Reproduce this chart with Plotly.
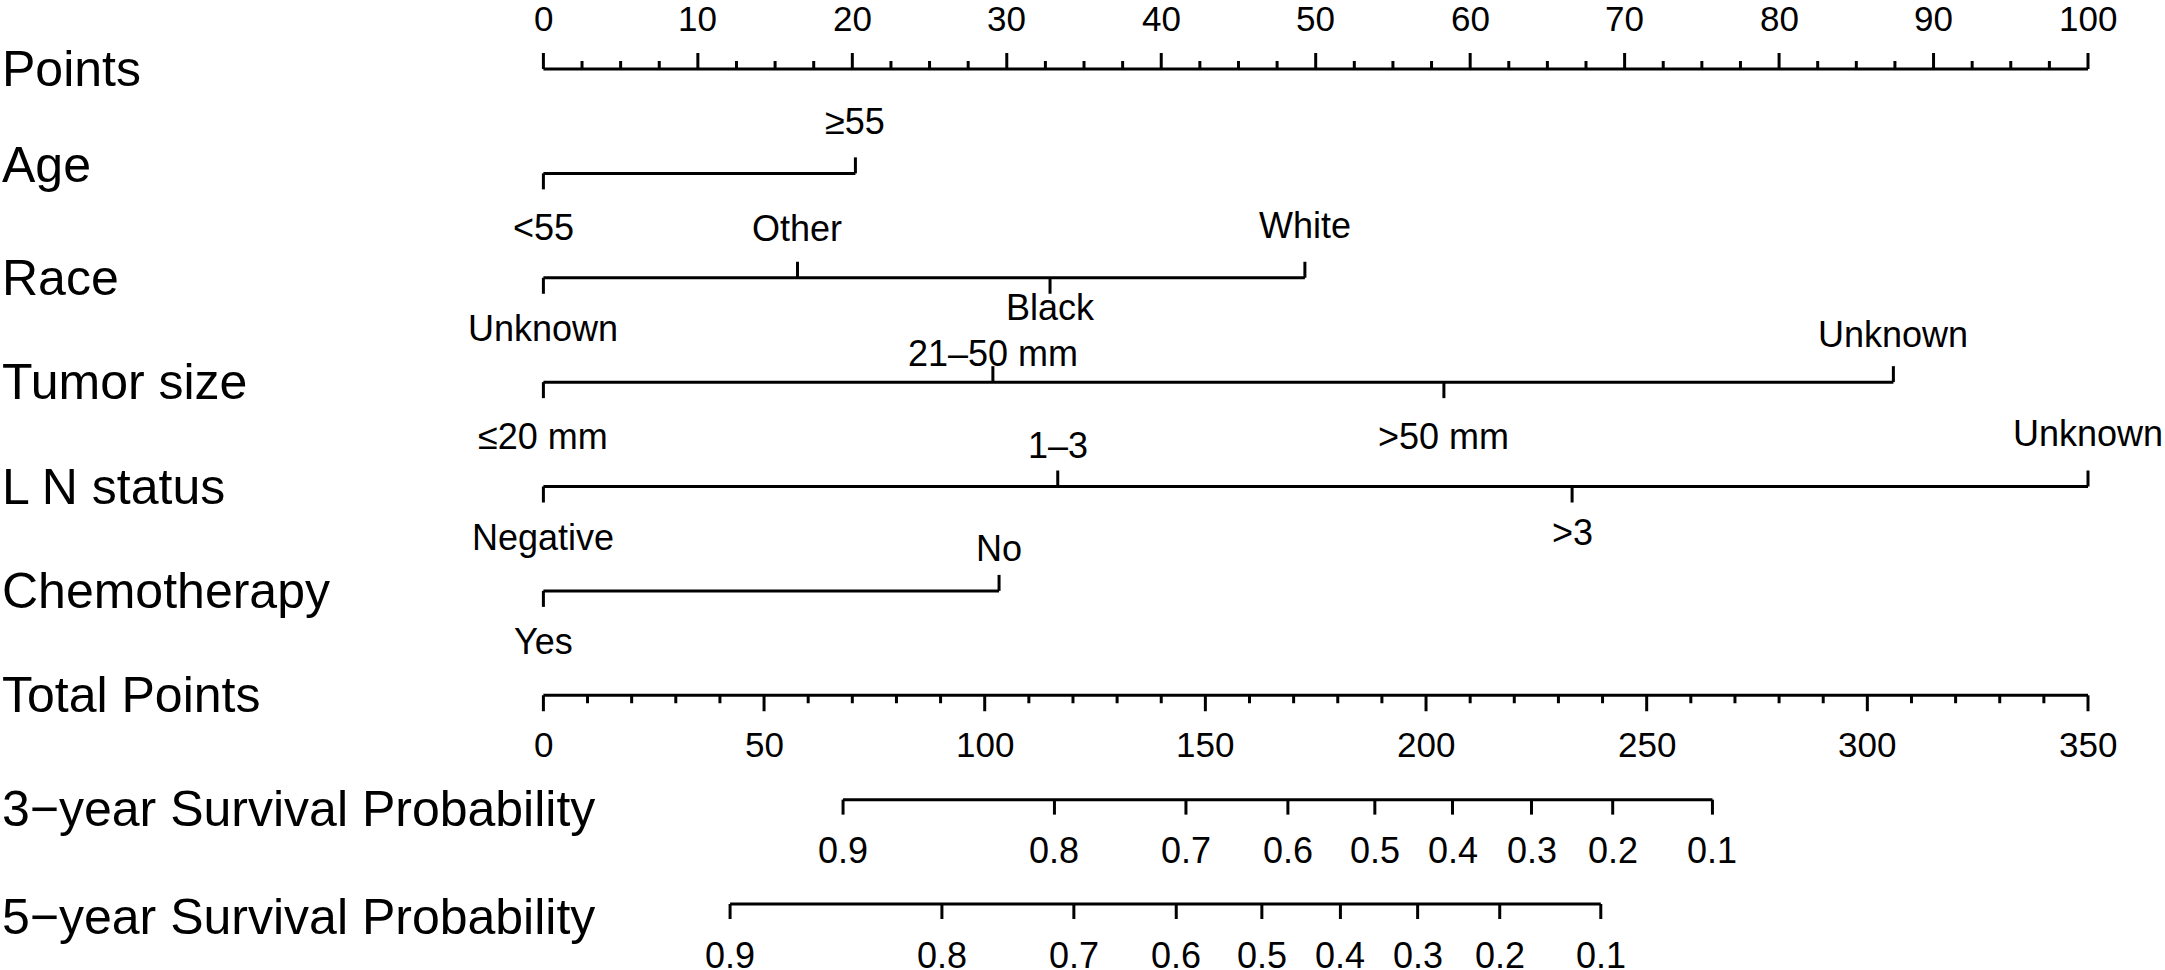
import plotly.graph_objects as go

# ---------------- data ----------------
points_ticks = [0, 10, 20, 30, 40, 50, 60, 70, 80, 90, 100]
points_minor_step = 2.5

age_levels = ["<55", "≥55"]
age_points = [0, 20.2]

race_levels = ["Unknown", "Other", "Black", "White"]
race_points = [0, 16.45, 32.8, 49.3]

tumor_levels = ["≤20 mm", "21–50 mm", ">50 mm", "Unknown"]
tumor_points = [0, 29.1, 58.3, 87.4]

ln_levels = ["Negative", "1–3", ">3", "Unknown"]
ln_points = [0, 33.3, 66.6, 100]

chemo_levels = ["Yes", "No"]
chemo_points = [0, 29.5]

total_ticks = [0, 50, 100, 150, 200, 250, 300, 350]
total_minor_step = 10
total_max = 350

surv_labels = ["0.9", "0.8", "0.7", "0.6", "0.5", "0.4", "0.3", "0.2", "0.1"]
surv3_total = [67.9, 115.8, 145.6, 168.7, 188.4, 206.0, 223.9, 242.3, 264.9]
surv5_total = [42.3, 90.3, 120.2, 143.4, 162.8, 180.6, 198.1, 216.7, 239.6]

row_names = ["Points", "Age", "Race", "Tumor size", "L N status", "Chemotherapy",
             "Total Points", "3\u2212year Survival Probability", "5\u2212year Survival Probability"]

# ---------------- styling / layout ----------------
W, H = 2165, 970
FONT = "Liberation Sans, Arial, Helvetica, sans-serif"
ROW_PX = 104.375          # pixel distance between rows
TOP_PX = 69               # pixel y of first row
X0_PX, X100_PX = 543.4, 2088.0
px_per_pt = (X100_PX - X0_PX) / 100.0
xrange = [-X0_PX / px_per_pt, (W - X0_PX) / px_per_pt]
yrange = [(H - TOP_PX) / ROW_PX, -TOP_PX / ROW_PX]
LW = 3
MAJ, MIN_, VT = 16, 8, 16   # tick lengths in px
def py(px):  # pixel length -> row units
    return px / ROW_PX

fig = go.Figure()
ann = []

def add_segments(xs, ys):
    fig.add_trace(go.Scatter(x=xs, y=ys, mode="lines",
                             line=dict(color="black", width=LW),
                             hoverinfo="skip", showlegend=False))

# Points axis (row 0), ticks up
r = 0
xs, ys = [0, 100, None], [r, r, None]
n_minor = int(round(100 / points_minor_step))
for k in range(n_minor + 1):
    v = k * points_minor_step
    L = MAJ if v in points_ticks else MIN_
    xs += [v, v, None]; ys += [r, r - py(L), None]
add_segments(xs, ys)
for v in points_ticks:
    ann.append(dict(x=v, y=r, text=str(v), yshift=51, font_size=35))

# variable rows
var_rows = [
    (1, age_levels, age_points, [-54, 52]),
    (2, race_levels, race_points, [-51, 49, -30, 52]),
    (3, tumor_levels, tumor_points, [-54, 29, -54, 48]),
    (4, ln_levels, ln_points, [-51, 41, -46, 53]),
    (5, chemo_levels, chemo_points, [-51, 42]),
]
for r, levs, pts, shifts in var_rows:
    xs, ys = [min(pts), max(pts), None], [r, r, None]
    for i, (lv, p) in enumerate(zip(levs, pts)):
        up = shifts[i] > 0
        xs += [p, p, None]; ys += [r, r - py(VT) if up else r + py(VT), None]
        ann.append(dict(x=p, y=r, text=lv, yshift=shifts[i], font_size=36))
    add_segments(xs, ys)

# Total points axis (row 6), ticks down
r = 6
scale = 100.0 / total_max
xs, ys = [0, total_max * scale, None], [r, r, None]
for k in range(int(total_max / total_minor_step) + 1):
    v = k * total_minor_step
    L = MAJ if v in total_ticks else MIN_
    xs += [v * scale, v * scale, None]; ys += [r, r + py(L), None]
add_segments(xs, ys)
for v in total_ticks:
    ann.append(dict(x=v * scale, y=r, text=str(v), yshift=-49, font_size=35))

# survival probability axes
for r, tp in [(7, surv3_total), (8, surv5_total)]:
    xs, ys = [min(tp) * scale, max(tp) * scale, None], [r, r, None]
    for lab, t in zip(surv_labels, tp):
        xs += [t * scale, t * scale, None]; ys += [r, r + py(15), None]
        ann.append(dict(x=t * scale, y=r, text=lab, yshift=-51, font_size=36))
    add_segments(xs, ys)

# row labels
row_shift = [0, 8, 0, 0, 0, 0, 0, -9, -13]
for i, name in enumerate(row_names):
    ann.append(dict(x=0, xref="paper", xanchor="left", y=i, text=name,
                    yshift=row_shift[i], font_size=50))

annotations = []
for a in ann:
    fs = a.pop("font_size")
    d = dict(showarrow=False, yanchor="middle", xanchor="center",
             font=dict(family=FONT, size=fs, color="black"))
    d.update(a)
    annotations.append(d)

fig.update_layout(
    width=W, height=H, autosize=False,
    margin=dict(l=0, r=0, t=0, b=0),
    paper_bgcolor="white", plot_bgcolor="white",
    xaxis=dict(range=xrange, visible=False, fixedrange=True),
    yaxis=dict(range=yrange, visible=False, fixedrange=True),
    annotations=annotations,
    font=dict(family=FONT, color="black"),
)
fig.write_html("out.html", config={"displayModeBar": False, "staticPlot": True},
               post_script="document.body.style.margin='0';document.body.style.overflow='hidden';")
